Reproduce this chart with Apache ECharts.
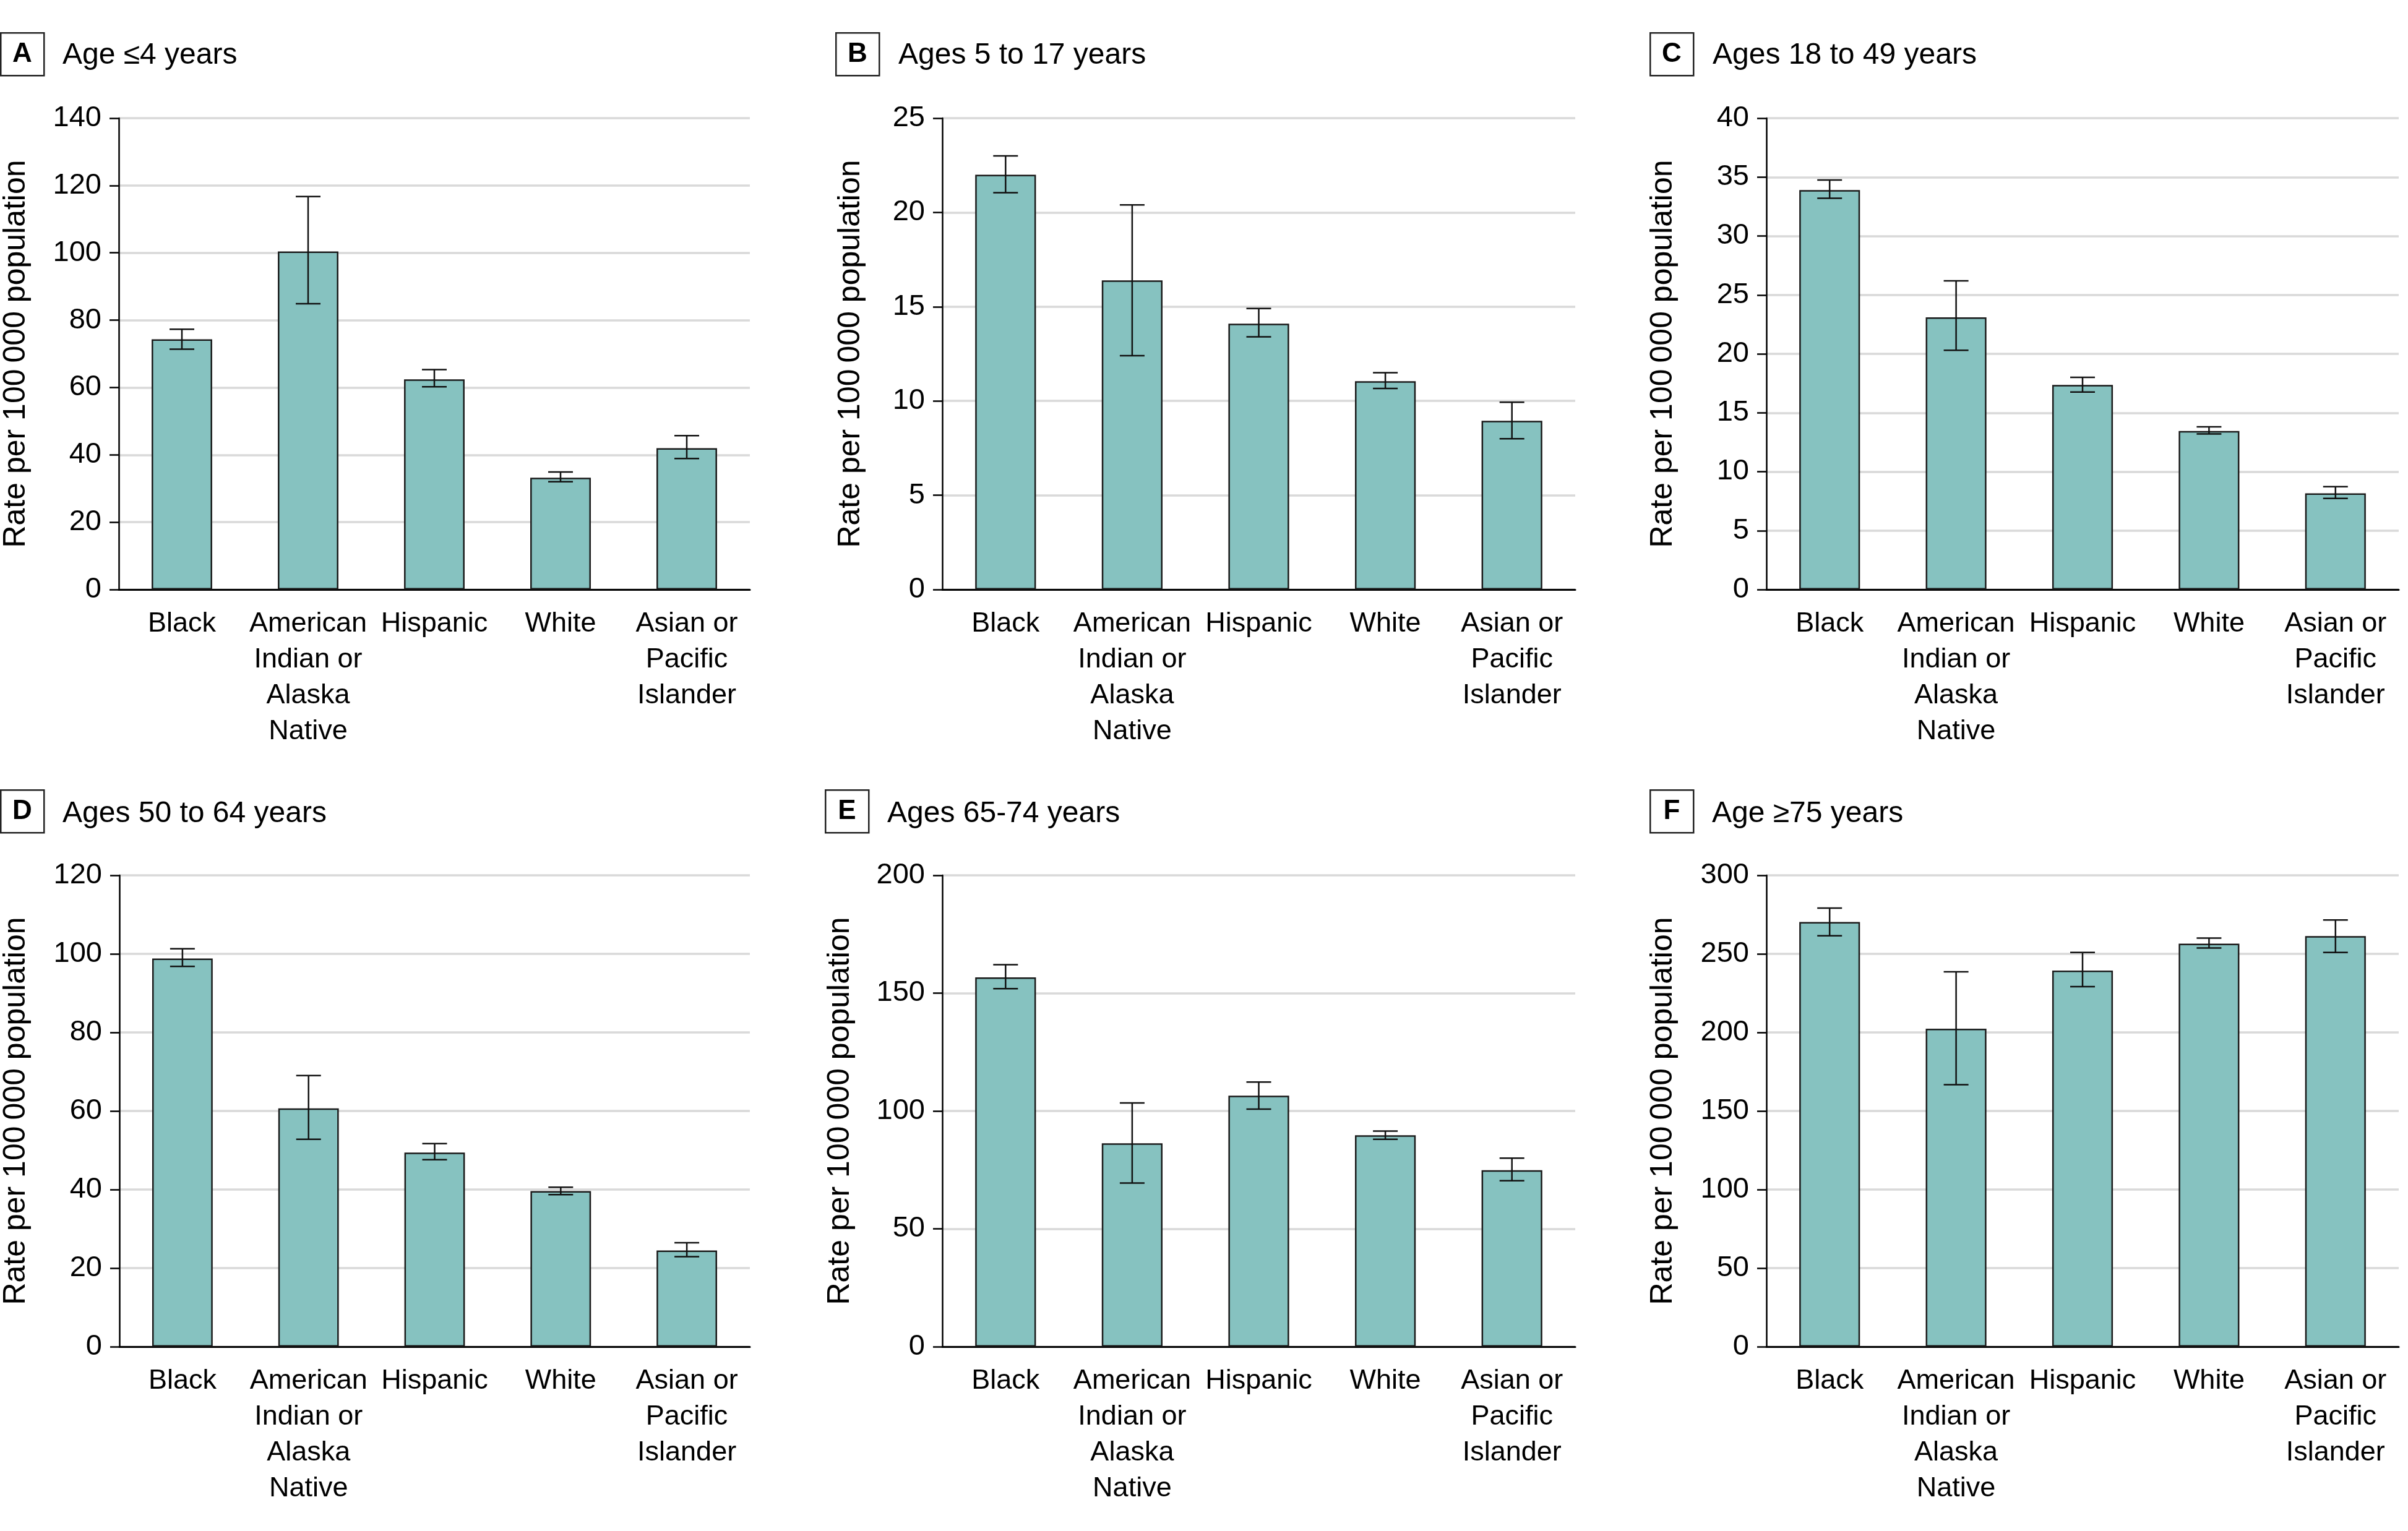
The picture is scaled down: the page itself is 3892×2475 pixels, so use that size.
<!DOCTYPE html>
<html>
<head>
<meta charset="utf-8">
<script src="https://cdn.jsdelivr.net/npm/echarts@6/dist/echarts.min.js"></script>
<style>
html,body{margin:0;padding:0;background:#fff;}
#chart{width:3892px;height:2475px;}
</style>
</head>
<body>
<div id="chart"></div>
<script>
// ---------- data ----------
const categories = ['Black', 'American\nIndian or\nAlaska\nNative', 'Hispanic', 'White', 'Asian or\nPacific\nIslander'];
const panelLetters = ['A', 'B', 'C', 'D', 'E', 'F'];
const panelTitles = ['Age ≤4 years', 'Ages 5 to 17 years', 'Ages 18 to 49 years', 'Ages 50 to 64 years', 'Ages 65-74 years', 'Age ≥75 years'];
const yAxisName = 'Rate per 100\u2009000 population';
const yMax = [140, 25, 40, 120, 200, 300];
const yInterval = [20, 5, 5, 20, 50, 50];

// rates per 100 000 population, with lower and upper CI bounds
const rateA = [74.3, 100.4, 62.4, 33.2, 42.0];
const lowA  = [71.4, 84.9, 60.2, 32.0, 38.9];
const highA = [77.3, 116.7, 65.3, 34.9, 45.7];

const rateB = [22.0, 16.4, 14.1, 11.05, 8.95];
const lowB  = [21.05, 12.4, 13.4, 10.66, 8.0];
const highB = [23.0, 20.4, 14.9, 11.5, 9.93];

const rateC = [33.9, 23.1, 17.36, 13.45, 8.16];
const lowC  = [33.2, 20.3, 16.76, 13.2, 7.73];
const highC = [34.75, 26.2, 18.0, 13.8, 8.73];

const rateD = [98.8, 60.65, 49.4, 39.6, 24.5];
const lowD  = [96.8, 52.8, 47.6, 38.7, 22.9];
const highD = [101.3, 69.0, 51.7, 40.6, 26.45];

const rateE = [156.7, 86.3, 106.5, 89.7, 74.9];
const lowE  = [151.9, 69.4, 100.8, 88.0, 70.4];
const highE = [162.1, 103.4, 112.3, 91.5, 80.0];

const rateF = [270.3, 202.4, 239.4, 256.5, 261.3];
const lowF  = [261.5, 166.7, 229.1, 253.7, 250.9];
const highF = [279.1, 238.6, 250.9, 260.0, 271.6];

const rates = [rateA, rateB, rateC, rateD, rateE, rateF];
const lows = [lowA, lowB, lowC, lowD, lowE, lowF];
const highs = [highA, highB, highC, highD, highE, highF];

// ---------- layout ----------
const FONT = "'Liberation Sans', Arial, sans-serif";
const gridLeft = [191, 1523, 2855];
const gridWidth = [1021, 1023, 1022];
const gridTop = [191, 1415];
const gridHeight = 762;
const nameGaps = [141, 123, 142, 142, 140, 142];
const boxX = [0, 1350, 2666, 0, 1333, 2666];
const titleX = [101, 1452, 2768, 101, 1434, 2767];
const boxTop = [52, 1276];
const titleMidY = [90, 1316];

const chart = echarts.init(document.getElementById('chart'), null, {renderer: 'canvas'});

const grids = [], xAxes = [], yAxes = [], series = [], graphics = [];
for (let p = 0; p < 6; p++) {
  const col = p % 3, row = Math.floor(p / 3);
  grids.push({left: gridLeft[col], top: gridTop[row], width: gridWidth[col], height: gridHeight, containLabel: false});
  xAxes.push({
    type: 'category', gridIndex: p, data: categories,
    axisLine: {show: true, lineStyle: {color: '#000', width: 3}},
    axisTick: {show: false},
    axisLabel: {interval: 0, color: '#000', fontFamily: FONT, fontSize: 45, lineHeight: 58, margin: 27}
  });
  yAxes.push({
    type: 'value', gridIndex: p, min: 0, max: yMax[p], interval: yInterval[p],
    name: yAxisName, nameLocation: 'middle', nameGap: nameGaps[p], nameRotate: 90,
    nameTextStyle: {color: '#000', fontFamily: FONT, fontSize: 50},
    axisLine: {show: true, lineStyle: {color: '#000', width: 2.5}},
    axisTick: {show: true, inside: false, length: 15, lineStyle: {color: '#000', width: 2.5}},
    axisLabel: {color: '#000', fontFamily: FONT, fontSize: 47, margin: 28},
    splitLine: {show: true, lineStyle: {color: '#d9d9d9', width: 3.5}}
  });
  series.push({
    type: 'bar', xAxisIndex: p, yAxisIndex: p, data: rates[p], barWidth: '48%',
    itemStyle: {color: '#86c2c0', borderColor: '#1a1a1a', borderWidth: 2.5},
    silent: true, z: 2
  });
  const errData = rates[p].map((v, i) => [i, lows[p][i], highs[p][i]]);
  series.push({
    type: 'custom', xAxisIndex: p, yAxisIndex: p, data: errData, z: 5, silent: true,
    renderItem: function (params, api) {
      const x = api.value(0);
      const lo = api.coord([x, api.value(1)]);
      const hi = api.coord([x, api.value(2)]);
      const hw = 20;
      const st = {stroke: '#111', lineWidth: 2.5};
      return {
        type: 'group',
        children: [
          {type: 'line', shape: {x1: lo[0], y1: lo[1], x2: hi[0], y2: hi[1]}, style: st},
          {type: 'line', shape: {x1: lo[0] - hw, y1: lo[1], x2: lo[0] + hw, y2: lo[1]}, style: st},
          {type: 'line', shape: {x1: hi[0] - hw, y1: hi[1], x2: hi[0] + hw, y2: hi[1]}, style: st}
        ]
      };
    }
  });
  // panel letter box and title
  graphics.push({
    type: 'rect', left: boxX[p], top: boxTop[row],
    shape: {width: 70, height: 69},
    style: {fill: '#fff', stroke: '#222', lineWidth: 2.5}
  });
  graphics.push({
    type: 'text', x: boxX[p] + 36, y: boxTop[row] + 36,
    style: {text: panelLetters[p], fill: '#000', font: 'bold 44px ' + FONT, textAlign: 'center', textVerticalAlign: 'middle'}
  });
  graphics.push({
    type: 'text', x: titleX[p], y: titleMidY[row],
    style: {text: panelTitles[p], fill: '#000', font: '48px ' + FONT, textAlign: 'left', textVerticalAlign: 'middle'}
  });
}

chart.setOption({
  animation: false,
  backgroundColor: '#fff',
  grid: grids, xAxis: xAxes, yAxis: yAxes, series: series, graphic: graphics
});
</script>
</body>
</html>
